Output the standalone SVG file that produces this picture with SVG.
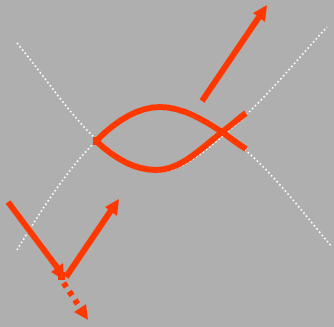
<svg xmlns="http://www.w3.org/2000/svg" width="334" height="327" viewBox="0 0 334 327">
<style>
.dot{fill:none;stroke:#fff;stroke-width:1.7;stroke-dasharray:1.7 2.4}
.red{fill:none;stroke:#ff3800;stroke-width:6}
.tip{fill:#ff3800}
</style>
<rect width="334" height="327" fill="#afafaf"/>
<g id="dotted">
<path class="dot" d="M17 43C45 77 70 115 97 140C115 157 135 172 157 172C180 172 200 155 225 134C265 100 295 62 327 27"/>
<path class="dot" d="M17 250C40 212 68 168 97 140C115 122 137 105 160 105C185 105 210 122 243 148C275 175 305 215 332 247"/>
</g>
<g id="connectors">
<path class="red" d="M96 141C115 122 137 107 160 107C183 107 205 121 222 132C230 138 238 144 246 149"/>
<path class="red" d="M96 141C113 157 133 170 156 170C180 170 200 150 222 132C230 126 238 119 246 113"/>
<path class="red" d="M202 101L259 17"/>
<polygon class="tip" points="267,5 253,13 265,22"/>
<path class="red" d="M8 202L59 270"/>
<polygon class="tip" points="63,263 51,272 64,280"/>
<path class="red" d="M66 277L112 209"/>
<polygon class="tip" points="119,199 105,207 117,216"/>
<path class="red" stroke-dasharray="5 5.2" d="M63.600 282.900L79 306"/>
<polygon class="tip" points="88,320 74,312 86,304"/>
<rect class="tip" x="93" y="137" width="8" height="8"/>
<rect class="tip" x="58" y="272" width="7" height="8"/>
</g>
</svg>
